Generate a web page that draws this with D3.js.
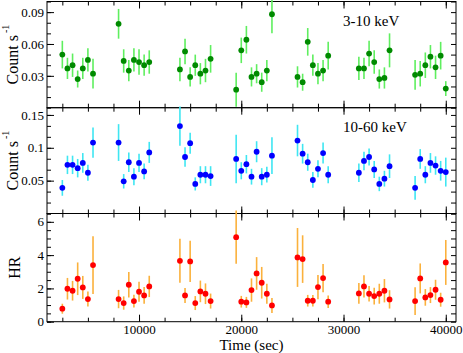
<!DOCTYPE html>
<html>
<head>
<meta charset="utf-8">
<script src="https://cdn.jsdelivr.net/npm/d3@7"></script>
<style>
  body { margin: 0; background: #fff; }
  svg text { font-family: "Liberation Serif", "Times New Roman", serif; fill: #000; }
</style>
</head>
<body>
<div id="chart"></div>
<script>
// observation times (sec)
var time = [2500, 3000, 3500, 4000, 4500, 5000, 5500,
    8000, 8500, 9000, 9500, 10000, 10500, 11000,
    14000, 14500, 15000, 15500, 16000, 16500, 17000,
    19500, 20000, 20500, 21000, 21500, 22000, 22500, 23000,
    25500, 26000, 26500, 27000, 27500, 28000, 28500,
    31500, 32000, 32500, 33000, 33500, 34000, 34500,
    37000, 37500, 38000, 38500, 39000, 39500, 40000];

// 3-10 keV count rate
var soft = [0.050, 0.037, 0.040, 0.027, 0.037, 0.045, 0.032,
    0.079, 0.044, 0.035, 0.045, 0.043, 0.040, 0.043,
    0.036, 0.053, 0.029, 0.040, 0.032, 0.035, 0.046,
    0.017, 0.054, 0.064, 0.029, 0.032, 0.024, 0.035, 0.088,
    0.029, 0.024, 0.062, 0.040, 0.032, 0.035, 0.049,
    0.037, 0.037, 0.051, 0.043, 0.027, 0.028, 0.054,
    0.031, 0.032, 0.040, 0.048, 0.038, 0.049, 0.018];
var softErr = [0.013, 0.010, 0.011, 0.008, 0.010, 0.011, 0.014,
    0.014, 0.011, 0.010, 0.011, 0.012, 0.010, 0.011,
    0.011, 0.012, 0.009, 0.010, 0.010, 0.011, 0.013,
    0.016, 0.012, 0.013, 0.009, 0.009, 0.009, 0.010, 0.018,
    0.010, 0.008, 0.013, 0.010, 0.010, 0.010, 0.013,
    0.011, 0.010, 0.012, 0.011, 0.009, 0.010, 0.016,
    0.014, 0.012, 0.012, 0.011, 0.011, 0.013, 0.007];

// 10-60 keV count rate
var hard = [0.039, 0.074, 0.074, 0.069, 0.077, 0.062, 0.108,
    0.108, 0.049, 0.078, 0.056, 0.077, 0.064, 0.093,
    0.133, 0.086, 0.107, 0.045, 0.059, 0.059, 0.057,
    0.083, 0.065, 0.075, 0.056, 0.094, 0.056, 0.059, 0.088,
    0.111, 0.091, 0.078, 0.051, 0.068, 0.092, 0.059,
    0.062, 0.080, 0.086, 0.067, 0.045, 0.053, 0.072,
    0.039, 0.083, 0.059, 0.077, 0.073, 0.065, 0.063];
var hardErr = [0.012, 0.014, 0.014, 0.014, 0.015, 0.012, 0.023,
    0.028, 0.011, 0.015, 0.013, 0.014, 0.012, 0.016,
    0.030, 0.015, 0.016, 0.010, 0.013, 0.013, 0.015,
    0.037, 0.013, 0.014, 0.012, 0.016, 0.013, 0.012, 0.028,
    0.024, 0.015, 0.013, 0.012, 0.013, 0.016, 0.013,
    0.014, 0.014, 0.013, 0.013, 0.011, 0.012, 0.018,
    0.018, 0.015, 0.013, 0.015, 0.014, 0.015, 0.022];

// hardness ratio
var hr = [0.78, 1.98, 1.86, 2.58, 2.06, 1.36, 3.40,
    1.36, 1.12, 2.22, 1.24, 1.80, 1.58, 2.12,
    3.66, 1.58, 3.62, 1.12, 1.82, 1.68, 1.24,
    5.08, 1.20, 1.16, 1.90, 2.90, 2.34, 1.68, 0.98,
    3.86, 3.76, 1.26, 1.26, 2.08, 2.62, 1.20,
    1.70, 2.12, 1.68, 1.54, 1.68, 1.86, 1.34,
    1.24, 2.60, 1.46, 1.60, 1.92, 1.32, 3.56];
var hrErr = [0.30, 0.65, 0.59, 0.98, 0.69, 0.45, 1.74,
    0.55, 0.40, 0.77, 0.38, 0.60, 0.50, 0.64,
    1.32, 0.45, 1.24, 0.42, 0.65, 0.62, 0.45,
    1.60, 0.35, 0.33, 0.70, 0.98, 0.95, 0.60, 0.45,
    1.77, 1.43, 0.35, 0.35, 0.73, 0.85, 0.37,
    0.62, 0.67, 0.47, 0.50, 0.60, 0.70, 0.55,
    0.83, 0.90, 0.50, 0.48, 0.60, 0.42, 1.35];

var xMajor = [10000, 20000, 30000, 40000];
var softTicks = [0.03, 0.06, 0.09];
var hardTicks = [0.05, 0.1, 0.15];
var hrTicks = [0, 2, 4, 6];

var width = 463, height = 353;
var left = 47, right = 456;
var serif = "'Liberation Serif', 'Times New Roman', serif";

var svg = d3.select("#chart")
    .append("svg")
    .attr("width", width)
    .attr("height", height)
    .attr("font-family", serif);

var x = d3.scaleLinear().domain([1000, 41000]).range([left, right]);

var panels = [
    {vals: soft, errs: softErr, top: 1.5, bottom: 107.7, domain: [0, 0.1], ticks: softTicks,
     minor: 0.01, fmt: d3.format(".2f"), title: "3-10 keV", label: "Count s", sup: "-1",
     dot: "#008a00", bar: "#5fef5f"},
    {vals: hard, errs: hardErr, top: 107.7, bottom: 213.5, domain: [0, 0.161], ticks: hardTicks,
     minor: 0.05 / 3, fmt: function (d) { return d3.format("")(+d.toFixed(2)) }, title: "10-60 keV",
     label: "Count s", sup: "-1", dot: "#0000ff", bar: "#3fe6f2"},
    {vals: hr, errs: hrErr, top: 213.5, bottom: 321.7, domain: [0, 6.5], ticks: hrTicks,
     minor: 0.5, fmt: d3.format("d"), title: null, label: "HR", sup: null,
     dot: "#ff0000", bar: "#fbb13c"}
];

function minorList(domain, step) {
    var out = [];
    for (var v = 0; v <= domain[1] + 1e-9; v += step) out.push(+v.toFixed(6));
    return out;
}

var xMinor = d3.range(2500, 41000, 2500);

panels.forEach(function (p, i) {
    var y = d3.scaleLinear().domain(p.domain).range([p.bottom, p.top]);
    var g = svg.append("g");
    var last = i === panels.length - 1;

    // x axes, ticks inward on top and bottom
    g.append("g").attr("transform", "translate(0," + p.bottom + ")")
        .call(d3.axisBottom(x).tickValues(xMinor).tickSize(-4).tickFormat(""));
    g.append("g").attr("transform", "translate(0," + p.bottom + ")")
        .call(d3.axisBottom(x).tickValues(xMajor).tickSize(-7).tickPadding(3)
            .tickFormat(last ? d3.format("d") : ""));
    g.append("g").attr("transform", "translate(0," + p.top + ")")
        .call(d3.axisTop(x).tickValues(xMinor).tickSize(-4).tickFormat(""));
    g.append("g").attr("transform", "translate(0," + p.top + ")")
        .call(d3.axisTop(x).tickValues(xMajor).tickSize(-7).tickFormat(""));

    // y axes
    g.append("g").attr("transform", "translate(" + left + ",0)")
        .call(d3.axisLeft(y).tickValues(minorList(p.domain, p.minor)).tickSize(-4).tickFormat(""));
    g.append("g").attr("transform", "translate(" + left + ",0)")
        .call(d3.axisLeft(y).tickValues(p.ticks).tickSize(-7).tickPadding(3).tickFormat(p.fmt));
    g.append("g").attr("transform", "translate(" + right + ",0)")
        .call(d3.axisRight(y).tickValues(minorList(p.domain, p.minor)).tickSize(-5).tickFormat(""));

    g.selectAll(".domain").remove();
    g.selectAll("g").attr("font-family", serif).attr("font-size", 13);
    g.selectAll(".tick line").attr("stroke", "#000").attr("stroke-width", 1);
    g.selectAll(".tick text").attr("fill", "#000");

    g.append("rect")
        .attr("x", left).attr("y", p.top)
        .attr("width", right - left).attr("height", p.bottom - p.top)
        .attr("fill", "none").attr("stroke", "#000").attr("stroke-width", 1);

    // error bars then symbols
    g.selectAll(".err")
        .data(p.vals)
        .enter().append("line")
        .attr("class", "err")
        .attr("x1", function (d, j) { return x(time[j]) })
        .attr("x2", function (d, j) { return x(time[j]) })
        .attr("y1", function (d, j) { return y(d - p.errs[j]) })
        .attr("y2", function (d, j) { return y(d + p.errs[j]) })
        .attr("stroke", p.bar)
        .attr("stroke-width", 1.6);

    g.selectAll(".pt")
        .data(p.vals)
        .enter().append("circle")
        .attr("class", "pt")
        .attr("cx", function (d, j) { return x(time[j]) })
        .attr("cy", function (d) { return y(d) })
        .attr("r", 2.9)
        .attr("fill", p.dot);

    if (p.title) {
        g.append("text")
            .attr("x", 343).attr("y", p.top + 24)
            .style("font-size", "15px")
            .text(p.title);
    }

    var cy = (p.top + p.bottom) / 2;
    var lab = g.append("text")
        .attr("transform", "translate(" + (p.sup ? 18 : 20) + "," + cy + ") rotate(-90)")
        .attr("text-anchor", "middle")
        .style("font-size", "16px")
        .text(p.label);
    if (p.sup) {
        lab.append("tspan").attr("dx", 2).attr("dy", -9).style("font-size", "10px").text(p.sup);
    }
});

svg.append("text")
    .attr("x", (left + right) / 2).attr("y", 350)
    .attr("text-anchor", "middle")
    .style("font-size", "15px")
    .text("Time (sec)");
</script>
</body>
</html>
